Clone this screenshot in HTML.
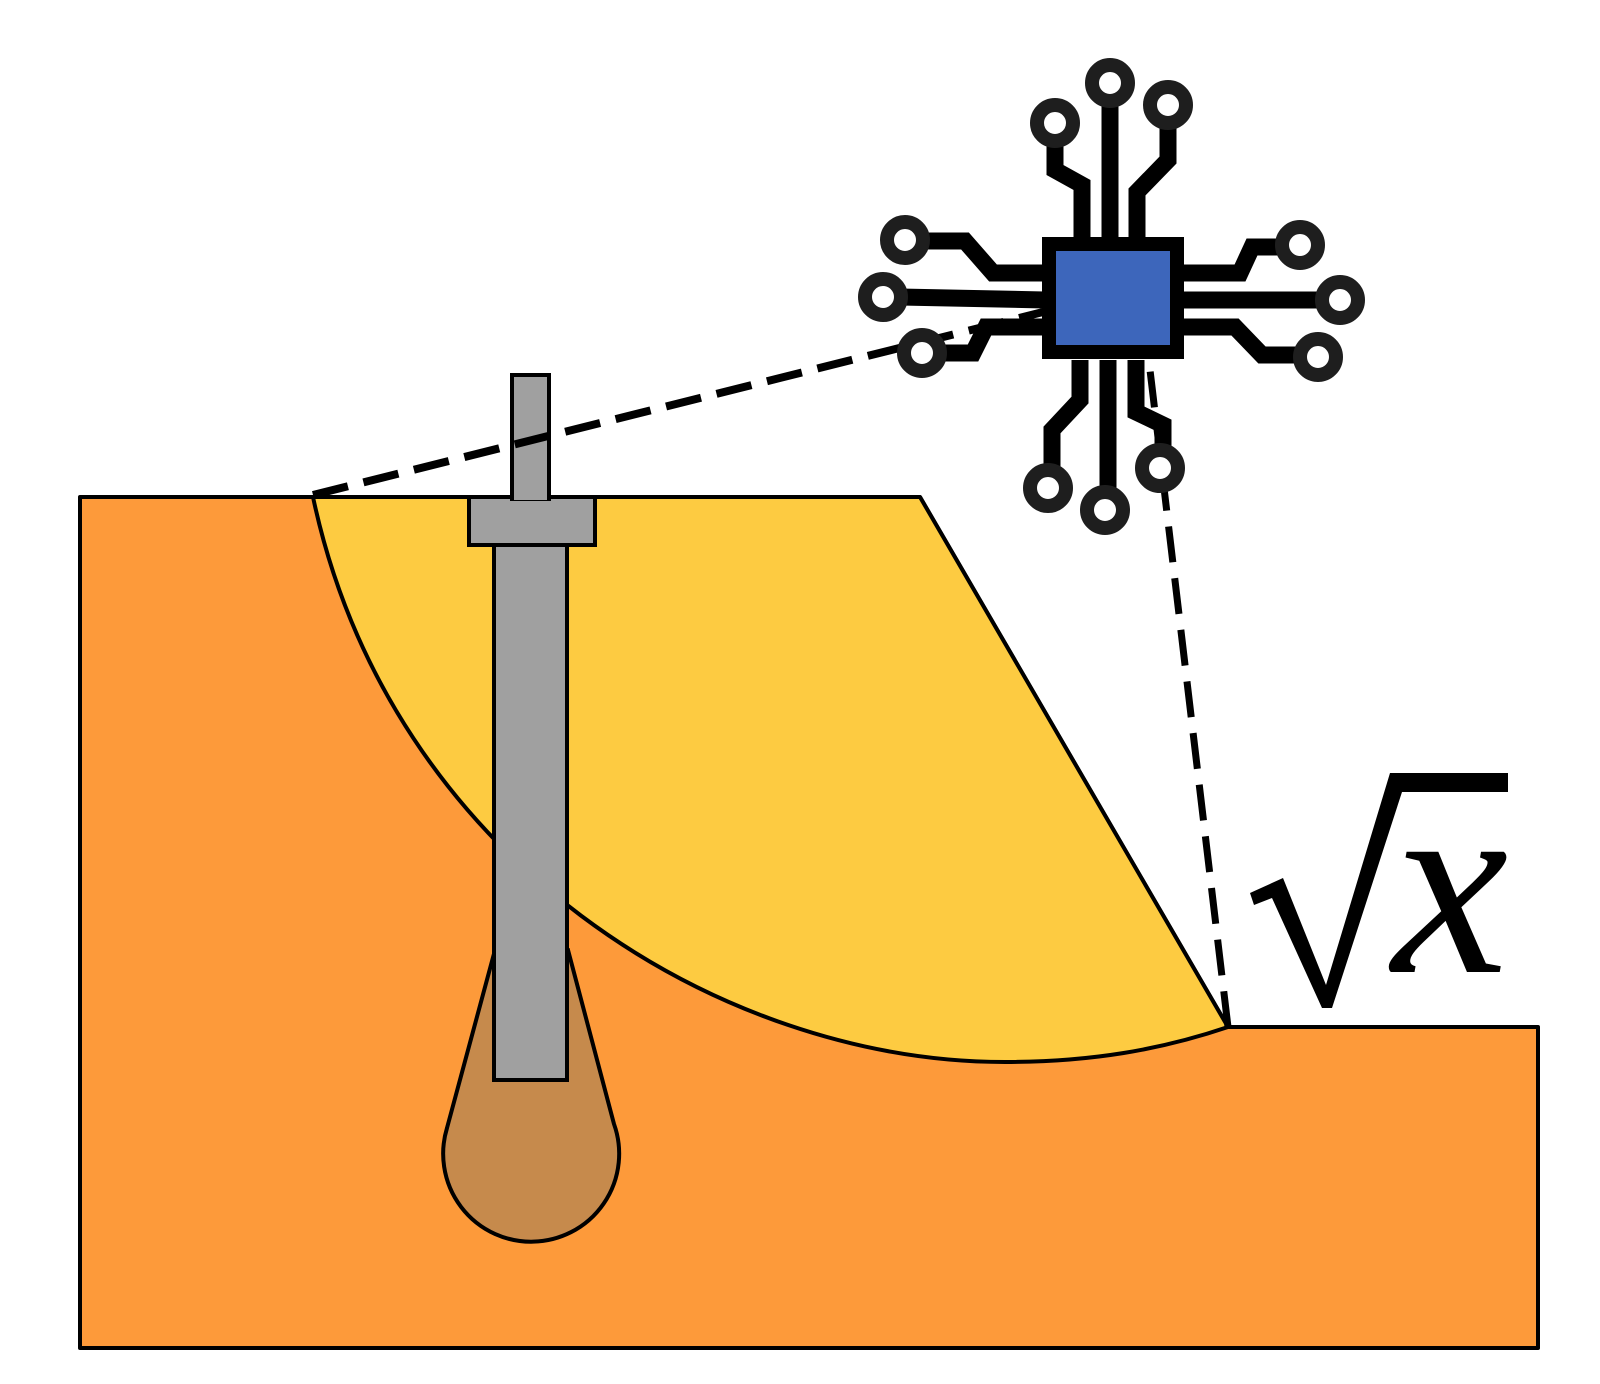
<!DOCTYPE html>
<html><head><meta charset="utf-8"><style>html,body{margin:0;padding:0;background:#fff}svg{display:block}</style></head>
<body>
<svg width="1600" height="1384" viewBox="0 0 1600 1384" xmlns="http://www.w3.org/2000/svg">
<path d="M80,497 L920,497 L1228,1027 L1538,1027 L1538,1348 L80,1348 Z" fill="#fd9a3a" stroke="#000" stroke-width="4" stroke-linejoin="round"/>
<path d="M313,497 L920,497 L1228,1027 C1160,1050 1090,1062 1005,1062 C720,1062 390,860 313,497 Z" fill="#fdcb41" stroke="#000" stroke-width="4" stroke-linejoin="round"/>
<path d="M495,950 L447,1128 A88,88 0 1 0 614,1124 L568,950 Z" fill="#c68a4c" stroke="#000" stroke-width="4"/>
<rect x="494" y="540" width="73" height="540" fill="#a0a0a0" stroke="#000" stroke-width="4"/>
<rect x="469" y="497" width="126" height="48" fill="#a0a0a0" stroke="#000" stroke-width="4"/>
<rect x="512" y="375" width="37" height="124" fill="#a0a0a0" stroke="#000" stroke-width="4"/>
<line x1="514" y1="497" x2="547" y2="497" stroke="#a0a0a0" stroke-width="6"/>
<line x1="313" y1="495" x2="1043" y2="312" stroke="#000" stroke-width="8" stroke-dasharray="36,16"/>
<line x1="1228" y1="1027" x2="1150" y2="370" stroke="#000" stroke-width="7" stroke-dasharray="36,16"/>
<g fill="none" stroke="#000" stroke-width="17" stroke-linejoin="miter">
<path d="M1055,140 V170 L1082,185 V240"/>
<path d="M1110,100 V240"/>
<path d="M1168,122 V160 L1137,192 V240"/>
<path d="M923,241 H965 L993,273 H1045"/>
<path d="M900,297 L1045,300"/>
<path d="M940,353 H973 L986,327 H1045"/>
<path d="M1180,273 H1240 L1252,247 H1285"/>
<path d="M1180,300 H1325"/>
<path d="M1180,327 H1235 L1262,355 H1300"/>
<path d="M1080,360 V400 L1052,430 V472"/>
<path d="M1108,360 V493"/>
<path d="M1136,360 V412 L1163,425 V452"/>
</g>
<g fill="#fff" stroke="#1e1e1e" stroke-width="14">
<circle cx="1055" cy="123" r="18"/>
<circle cx="1110" cy="83" r="18"/>
<circle cx="1168" cy="105" r="18"/>
<circle cx="905" cy="240" r="18"/>
<circle cx="883" cy="297" r="18"/>
<circle cx="922" cy="353" r="18"/>
<circle cx="1300" cy="245" r="18"/>
<circle cx="1340" cy="300" r="18"/>
<circle cx="1318" cy="357" r="18"/>
<circle cx="1048" cy="488" r="18"/>
<circle cx="1105" cy="510" r="18"/>
<circle cx="1160" cy="468" r="18"/>
</g>
<rect x="1049" y="244" width="128" height="108" fill="#3d66bb" stroke="#000" stroke-width="14"/>
<path d="M1250,893 L1283,878 L1326,985 L1390,773 L1508,773 L1508,792 L1402,792 L1332,1008 L1322,1008 L1272,898 L1254,905 Z" fill="#000"/>
<text x="1392" y="972" font-family="Liberation Serif, serif" font-style="italic" font-size="262" fill="#000">x</text>
</svg>
</body></html>
